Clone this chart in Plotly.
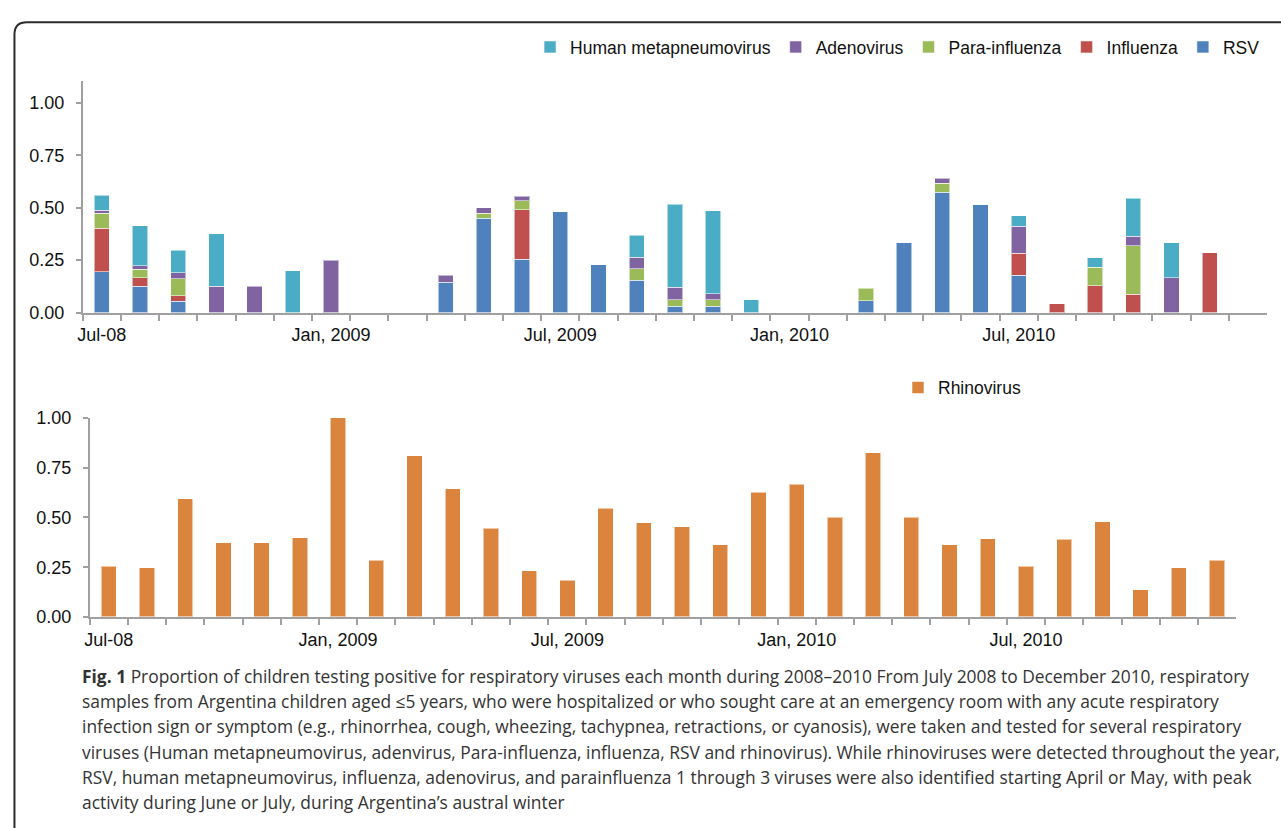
import plotly.graph_objects as go

# ---------------- data ----------------
months = [
    "Jul 2008", "Aug 2008", "Sep 2008", "Oct 2008", "Nov 2008", "Dec 2008",
    "Jan 2009", "Feb 2009", "Mar 2009", "Apr 2009", "May 2009", "Jun 2009",
    "Jul 2009", "Aug 2009", "Sep 2009", "Oct 2009", "Nov 2009", "Dec 2009",
    "Jan 2010", "Feb 2010", "Mar 2010", "Apr 2010", "May 2010", "Jun 2010",
    "Jul 2010", "Aug 2010", "Sep 2010", "Oct 2010", "Nov 2010", "Dec 2010",
]
top_axis_months = months + ["Jan 2011"]

tick_labels = {
    "Jul 2008": "Jul-08",
    "Jan 2009": "Jan, 2009",
    "Jul 2009": "Jul, 2009",
    "Jan 2010": "Jan, 2010",
    "Jul 2010": "Jul, 2010",
}

rsv = [0.194, 0.125, 0.053, None, None, None, None, None, None, 0.144,
       0.449, 0.255, 0.481, 0.228, 0.155, 0.030, 0.030, None, None, None,
       0.057, 0.332, 0.574, 0.515, 0.179, None, None, None, None, None]
influenza = [0.208, 0.040, 0.026, None, None, None, None, None, None, None,
             None, 0.235, None, None, None, None, None, None, None, None,
             None, None, None, None, 0.104, 0.042, 0.127, 0.088, None, 0.286]
parainfluenza = [0.073, 0.042, 0.083, None, None, None, None, None, None, None,
                 0.026, 0.044, None, None, 0.055, 0.031, 0.031, None, None, None,
                 0.058, None, 0.044, None, None, None, 0.090, 0.230, None, None]
adenovirus = [0.013, 0.017, 0.028, 0.125, 0.125, None, 0.250, None, None, 0.033,
              0.025, 0.020, None, None, 0.054, 0.059, 0.029, None, None, None,
              None, None, 0.022, None, 0.128, None, None, 0.045, 0.165, None]
hmpv = [0.072, 0.191, 0.107, 0.250, None, 0.200, None, None, None, None,
        None, None, None, None, 0.104, 0.396, 0.396, 0.062, None, None,
        None, None, None, None, 0.050, None, 0.044, 0.183, 0.167, None]
rhinovirus = [0.254, 0.248, 0.593, 0.374, 0.374, 0.398, 1.000, 0.284, 0.811, 0.643,
              0.446, 0.233, 0.184, 0.546, 0.474, 0.454, 0.364, 0.626, 0.667, 0.500,
              0.825, 0.500, 0.362, 0.393, 0.254, 0.390, 0.479, 0.136, 0.248, 0.284]

y_ticks = [0, 0.25, 0.5, 0.75, 1.0]

caption_lines = [
    "<b>Fig. 1</b> Proportion of children testing positive for respiratory viruses each month during 2008\u20132010 From July 2008 to December 2010, respiratory",
    "samples from Argentina children aged \u22645 years, who were hospitalized or who sought care at an emergency room with any acute respiratory",
    "infection sign or symptom (e.g., rhinorrhea, cough, wheezing, tachypnea, retractions, or cyanosis), were taken and tested for several respiratory",
    "viruses (Human metapneumovirus, adenvirus, Para-influenza, influenza, RSV and rhinovirus). While rhinoviruses were detected throughout the year,",
    "RSV, human metapneumovirus, influenza, adenovirus, and parainfluenza 1 through 3 viruses were also identified starting April or May, with peak",
    "activity during June or July, during Argentina\u2019s austral winter",
]

# ---------------- styling ----------------
W, H = 1281, 828
FONT = "Liberation Sans, Arial, Helvetica, sans-serif"
AXIS_GRAY = "#a0a0a0"
EDGE = dict(color="rgba(255,255,255,0.55)", width=1)

def px_x(x):
    return x / W

def px_y(y):
    return 1 - y / H

fig = go.Figure()

series = [
    ("RSV", rsv, "#4f81bd"),
    ("Influenza", influenza, "#c0504d"),
    ("Para-influenza", parainfluenza, "#9bbb59"),
    ("Adenovirus", adenovirus, "#8064a2"),
    ("Human metapneumovirus", hmpv, "#4bacc6"),
]
for name, vals, col in series:
    fig.add_trace(go.Bar(
        x=months, y=vals, name=name, marker=dict(color=col, line=EDGE),
        xaxis="x", yaxis="y", legend="legend",
    ))

fig.add_trace(go.Bar(
    x=months, y=rhinovirus, name="Rhinovirus",
    marker=dict(color="#db843d", line=EDGE),
    xaxis="x2", yaxis="y2", legend="legend2",
))

TICKFONT = dict(family=FONT, size=18, color="#111")
common_x = dict(
    type="category", categoryorder="array", tickson="boundaries",
    ticks="outside", ticklen=6, tickwidth=1.5, tickcolor=AXIS_GRAY,
    showline=True, linecolor=AXIS_GRAY, linewidth=2,
    showgrid=False, zeroline=False, fixedrange=True,
    tickfont=TICKFONT, tickangle=0,
    ticklabelstandoff=5,
)
common_y = dict(
    tickvals=y_ticks, tickformat=".2f",
    ticks="outside", ticklen=5, tickwidth=1.5, tickcolor=AXIS_GRAY,
    showline=True, linecolor=AXIS_GRAY, linewidth=1.5,
    showgrid=False, zeroline=False, fixedrange=True,
    tickfont=TICKFONT,
    ticklabelstandoff=8,
)

fig.update_layout(
    width=W, height=H,
    margin=dict(l=0, r=0, t=0, b=0),
    paper_bgcolor="white", plot_bgcolor="white",
    barmode="stack", bargap=0.6,
    font=dict(family=FONT, size=17, color="#111"),
    xaxis=dict(common_x, domain=[px_x(78), px_x(1267)],
               categoryarray=top_axis_months, tickvals=top_axis_months,
               ticktext=[tick_labels.get(m, "") for m in top_axis_months],
               range=[-0.5, len(top_axis_months) - 0.5], anchor="y"),
    yaxis=dict(common_y, domain=[px_y(310), px_y(73)], range=[0, 1.104], anchor="x"),
    xaxis2=dict(common_x, domain=[px_x(85), px_x(1236)],
                categoryarray=months, tickvals=months,
                ticktext=[tick_labels.get(m, "") for m in months],
                range=[-0.5, len(months) - 0.5], anchor="y2"),
    yaxis2=dict(common_y, domain=[px_y(622), px_y(418)], range=[0, 1.0], anchor="x2"),
    legend=dict(orientation="h", traceorder="reversed",
                x=px_x(1265), xanchor="right", y=px_y(38), yanchor="middle",
                font=dict(family=FONT, size=17.5, color="#111"),
                bgcolor="rgba(0,0,0,0)", itemwidth=30, tracegroupgap=0),
    legend2=dict(orientation="h",
                 x=px_x(1025), xanchor="right", y=px_y(387), yanchor="middle",
                 font=dict(family=FONT, size=17.5, color="#111"),
                 bgcolor="rgba(0,0,0,0)", itemwidth=30),
    showlegend=True,
)

# rounded frame
fig.add_shape(
    type="path", xref="paper", yref="paper",
    path=(f"M {px_x(9.5)},{px_y(850)} L {px_x(9.5)},{px_y(25)} "
          f"Q {px_x(9.5)},{px_y(12.5)} {px_x(22)},{px_y(12.5)} L {px_x(1300)},{px_y(12.5)}"),
    line=dict(color="#2b2b2b", width=2),
)

# caption
line_y = [682, 708, 734, 760, 786, 812]
for txt, yy in zip(caption_lines, line_y):
    fig.add_annotation(
        text=txt, xref="paper", yref="paper", x=px_x(75), y=px_y(yy),
        xanchor="left", yanchor="middle", showarrow=False, align="left",
        font=dict(family="Open Sans, Noto Sans, sans-serif", size=17.4, color="#333333"),
    )

fig.write_html(
    "out.html",
    config={"displayModeBar": False},
    post_script="document.body.style.margin='0';document.body.style.overflow='hidden';",
)
